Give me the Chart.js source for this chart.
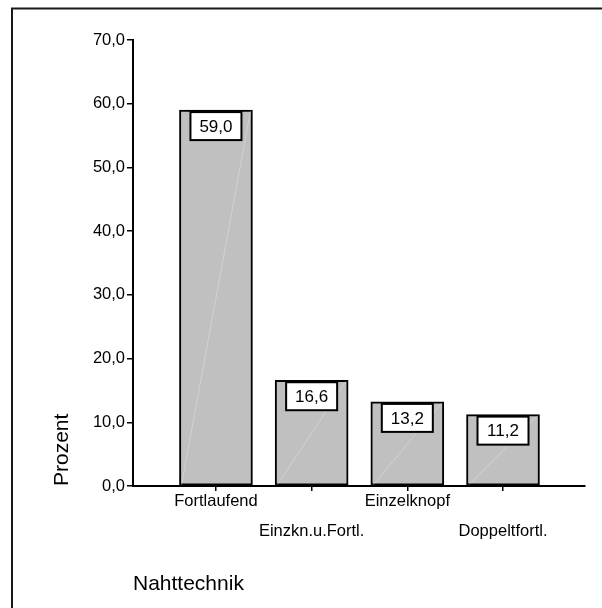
<!DOCTYPE html>
<html>
<head>
<meta charset="utf-8">
<script src="https://cdn.jsdelivr.net/npm/chart.js@4.4.2/dist/chart.umd.min.js"></script>
<style>
  html, body { margin: 0; padding: 0; background: #fff; }
  canvas { display: block; }
</style>
</head>
<body>
<canvas id="chart" width="602" height="608"></canvas>
<script>
// Data
const categories = ["Fortlaufend", "Einzkn.u.Fortl.", "Einzelknopf", "Doppeltfortl."];
const percentValues = [59.0, 16.6, 13.2, 11.2];
const yTicks = [0, 10, 20, 30, 40, 50, 60, 70];
const yTitle = "Prozent";
const xTitle = "Nahttechnik";

const FONT = "'Liberation Sans', Arial, sans-serif";

function fmt(v) {
    return v.toFixed(1).replace(".", ",");
}

// Outer frame, faint diagonal in each bar and the boxed value labels
const decorations = {
    id: "decorations",
    afterDatasetsDraw(chart) {
        const ctx = chart.ctx;
        const meta = chart.getDatasetMeta(0);
        meta.data.forEach((bar, i) => {
            const { x, y, base, width } = bar.getProps(["x", "y", "base", "width"], true);
            // faint diagonal line
            ctx.save();
            ctx.strokeStyle = "rgba(255,255,255,0.45)";
            ctx.lineWidth = 0.6;
            ctx.beginPath();
            ctx.moveTo(x - width / 2 + 2, base);
            ctx.lineTo(x + width / 2 - 2, y + 1);
            ctx.stroke();
            ctx.restore();

            // value box
            const bw = 51, bh = 28;
            const bx = x - bw / 2, by = y + 2;
            ctx.save();
            ctx.fillStyle = "#ffffff";
            ctx.fillRect(bx, by, bw, bh);
            ctx.strokeStyle = "#000";
            ctx.lineWidth = 2;
            ctx.strokeRect(bx, by, bw, bh);
            ctx.fillStyle = "#000";
            ctx.font = "17px " + FONT;
            ctx.textAlign = "center";
            ctx.textBaseline = "middle";
            ctx.fillText(fmt(percentValues[i]), x, by + bh / 2 + 1);
            ctx.restore();
        });
    },
    afterDraw(chart) {
        const ctx = chart.ctx;
        ctx.save();
        ctx.strokeStyle = "#1a1a1a";
        ctx.lineWidth = 2;
        ctx.strokeRect(12, 8.5, 700, 700);
        ctx.restore();
    }
};

new Chart(document.getElementById("chart"), {
    type: "bar",
    data: {
        datasets: [{
            data: percentValues.map((v, i) => ({ x: i, y: v })),
            backgroundColor: "#c0c0c0",
            borderColor: "#000000",
            borderWidth: 2,
            borderSkipped: false,
            barThickness: 73
        }]
    },
    options: {
        responsive: false,
        animation: false,
        devicePixelRatio: 1,
        layout: { padding: { top: 40, right: 17, left: 0, bottom: 0 } },
        plugins: {
            legend: { display: false },
            tooltip: { enabled: false }
        },
        scales: {
            x: {
                type: "linear",
                offset: false,
                min: -0.867,
                max: 3.857,
                afterBuildTicks: scale => {
                    scale.ticks = categories.map((c, i) => ({ value: i }));
                },
                afterFit: scale => { scale.height = 122; },
                ticks: {
                    autoSkip: false,
                    maxRotation: 0,
                    padding: -4,
                    color: "#000",
                    font: { family: FONT, size: 16.5, lineHeight: 1.8 },
                    callback: (v) => {
                        const i = Math.round(v);
                        return i % 2 === 1 ? ["", categories[i]] : categories[i];
                    }
                },
                grid: {
                    offset: false,
                    drawOnChartArea: false,
                    drawTicks: true,
                    tickLength: 5,
                    color: "#000",
                    lineWidth: 1.5
                },
                border: { display: true, color: "#000", width: 2 },
                title: {
                    display: true,
                    text: xTitle,
                    align: "start",
                    color: "#000",
                    font: { family: FONT, size: 21 },
                    padding: { top: 0, bottom: 11 }
                }
            },
            y: {
                min: 0,
                max: 70,
                afterBuildTicks: scale => {
                    scale.ticks = yTicks.map(v => ({ value: v }));
                },
                afterFit: scale => { scale.width = 133; },
                ticks: {
                    padding: 2,
                    color: "#000",
                    font: { family: FONT, size: 16.5 },
                    callback: v => fmt(v)
                },
                grid: {
                    drawOnChartArea: false,
                    drawTicks: true,
                    tickLength: 6,
                    color: "#000",
                    lineWidth: 1.5
                },
                border: { display: true, color: "#000", width: 2 },
                title: {
                    display: true,
                    text: yTitle,
                    align: "start",
                    color: "#000",
                    font: { family: FONT, size: 21 },
                    padding: { top: 50, bottom: 0 }
                }
            }
        }
    },
    plugins: [decorations]
});
</script>
</body>
</html>
